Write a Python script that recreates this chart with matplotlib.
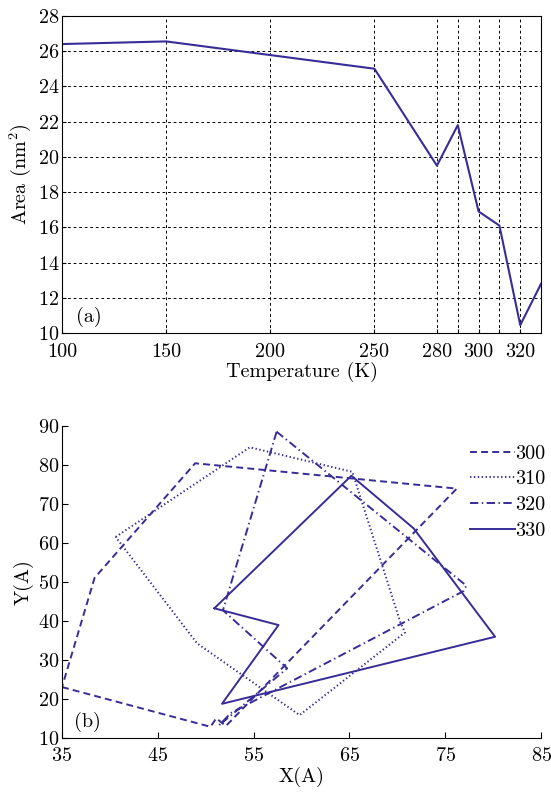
import matplotlib
matplotlib.use("Agg")
import matplotlib.pyplot as plt

plt.rcParams["font.family"] = "cmr10"
plt.rcParams["mathtext.fontset"] = "cm"
plt.rcParams["axes.unicode_minus"] = False
plt.rcParams["axes.formatter.use_mathtext"] = True
plt.rcParams["lines.scale_dashes"] = False

COLOR = "#382c98"

# (a) area vs temperature
temps = [100, 150, 250, 280, 290, 300, 310, 320, 330]
area = [26.4, 26.55, 25.0, 19.5, 21.8, 16.9, 16.1, 10.45, 12.8]
temp_grid = [100, 150, 200, 250, 280, 290, 300, 310, 320]
temp_labels = ["100", "150", "200", "250", "280", "", "300", "", "320"]

# (b) contour traces
x300 = [35.0, 50.5, 51.1, 52.1, 76.2, 48.9, 38.4, 35.0]
y300 = [23.0, 12.8, 15.0, 13.0, 73.9, 80.4, 51.0, 23.0]
x310 = [40.6, 54.6, 65.3, 70.3, 70.8, 59.8, 49.1, 40.6]
y310 = [61.5, 84.5, 78.2, 39.7, 37.0, 15.8, 34.2, 61.5]
x320 = [57.4, 77.2, 76.9, 52.6, 51.4, 58.5, 51.8, 57.4]
y320 = [88.5, 49.0, 47.6, 16.3, 13.2, 27.8, 42.7, 88.5]
x330 = [50.9, 65.2, 71.7, 80.2, 51.7, 57.6, 50.9]
y330 = [43.2, 77.2, 63.7, 35.9, 18.7, 38.9, 43.2]

FS = 14.5

fig = plt.figure(figsize=(5.51, 7.93), dpi=100)

# ---- panel (a)
ax1 = fig.add_axes([0.1125, 0.580, 0.8695, 0.400])
ax1.plot(temps, area, color=COLOR, lw=1.5)
ax1.set_xlim(100, 330)
ax1.set_ylim(10, 28)
ax1.set_xticks(temp_grid)
ax1.set_xticklabels(temp_labels)
ax1.set_yticks(range(10, 29, 2))
ax1.grid(True, color="black", lw=0.7, linestyle=(0, (2, 2)))
ax1.tick_params(direction="in", labelsize=FS, length=3)
ax1.tick_params(axis="x", pad=7)
ax1.tick_params(axis="y", pad=2)
ax1.set_xlabel("Temperature (K)", fontsize=FS, labelpad=1)
ax1.set_ylabel(r"Area (nm$^2$)", fontsize=FS, labelpad=3)
ax1.text(0.03, 0.035, "(a)", transform=ax1.transAxes, fontsize=FS)

# ---- panel (b)
ax2 = fig.add_axes([0.1125, 0.0697, 0.8695, 0.3933])
ax2.plot(x300, y300, color=COLOR, lw=1.4, linestyle=(0, (5, 3)), label="300")
ax2.plot(x310, y310, color=COLOR, lw=1.4, linestyle=(0, (1, 1.8)), label="310")
ax2.plot(x320, y320, color=COLOR, lw=1.4, linestyle=(0, (6, 2.5, 1, 2.5)), label="320")
ax2.plot(x330, y330, color=COLOR, lw=1.4, linestyle="-", label="330")
ax2.set_xlim(35, 85)
ax2.set_ylim(10, 90)
ax2.set_xticks(range(35, 86, 10))
ax2.set_yticks(range(10, 91, 10))
ax2.spines["top"].set_visible(False)
ax2.spines["right"].set_visible(False)
ax2.tick_params(direction="in", labelsize=FS, length=4)
ax2.tick_params(axis="x", pad=7)
ax2.tick_params(axis="y", pad=2)
ax2.set_xlabel("X(A)", fontsize=FS, labelpad=1)
ax2.set_ylabel("Y(A)", fontsize=FS, labelpad=3)
ax2.text(0.025, 0.035, "(b)", transform=ax2.transAxes, fontsize=FS)
ax2.legend(loc="upper right", bbox_to_anchor=(1.01, 0.94), frameon=False,
           fontsize=FS, handlelength=2.2, handletextpad=0.05, labelspacing=0.38,
           borderaxespad=0.0, borderpad=0.0)

fig.savefig("out.png", dpi=100)
